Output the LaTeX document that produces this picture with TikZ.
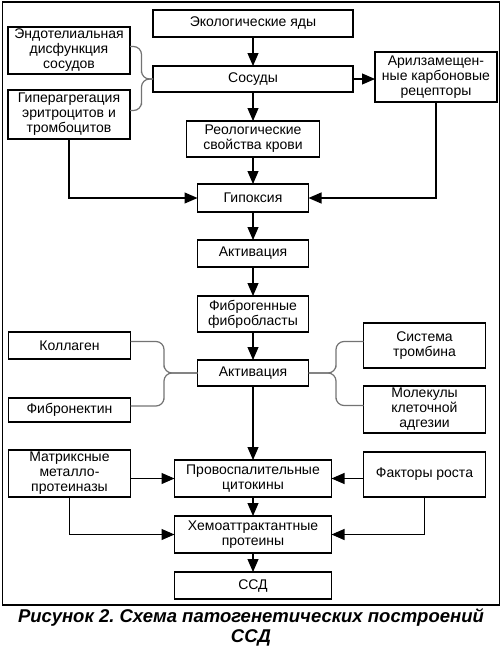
\documentclass[tikz,border=0pt]{standalone}
\usepackage{fontspec}
\setmainfont{Liberation Sans}
\usetikzlibrary{positioning, arrows.meta, calc}
\tikzset{
    box/.style={draw, line width=1.1pt, align=center, inner xsep=2pt, inner ysep=0pt, outer sep=0pt, font=\fontsize{14}{15}\selectfont},
    link/.style={line width=1.1pt, -{Triangle[length=13pt, width=11pt]}},
    bracelink/.style={draw=black!55, line width=1.2pt, rounded corners=8pt},
}

\begin{document}
\begin{tikzpicture}
    \useasboundingbox (0,0) rectangle (503pt,-651pt);

    \node[draw, line width=1.1pt, inner sep=0, outer sep=0, minimum width=497pt, minimum height=603pt] (frame) at (251pt,-303.5pt) {};

    % main column
    \node[box, minimum width=200pt, minimum height=27pt] (eco) at (253pt,-23.5pt) {Экологические яды};
    \node[box, minimum width=200pt, minimum height=26pt, below=29pt of eco] (vessels) {Сосуды};
    \node[box, minimum width=133pt, minimum height=36pt, below=29pt of vessels] (rheo) {Реологические\\свойства крови};
    \node[box, minimum width=111pt, minimum height=28pt, below=27pt of rheo] (hypoxia) {Гипоксия};
    \node[box, minimum width=111pt, minimum height=27pt, below=28pt of hypoxia] (act1) {Активация};
    \node[box, minimum width=111pt, minimum height=36pt, below=29pt of act1] (fibro) {Фиброгенные\\фибробласты};
    \node[box, minimum width=111pt, minimum height=26pt, below=28pt of fibro] (act2) {Активация};
    \node[box, minimum width=157pt, minimum height=37pt, below=74pt of act2] (cytokines) {Провоспалительные\\цитокины};
    \node[box, minimum width=157pt, minimum height=37pt, below=19pt of cytokines] (chemo) {Хемоаттрактантные\\протеины};
    \node[box, minimum width=157pt, minimum height=27pt, below=19pt of chemo] (ssd) {ССД};

    % side boxes
    \node[box, minimum width=122pt, minimum height=47pt, left=23pt of vessels, yshift=28.5pt] (endo) {Эндотелиальная\\дисфункция\\сосудов};
    \node[box, minimum width=122pt, minimum height=49pt, below=16pt of endo] (aggreg) {Гиперагрегация\\эритроцитов и\\тромбоцитов};
    \node[box, minimum width=122pt, minimum height=50pt, right=22pt of vessels, yshift=2pt] (aryl) {Арилзамещен-\\ные карбоновые\\рецепторы};
    \node[box, minimum width=122pt, minimum height=27pt, left=67pt of act2, yshift=27.5pt] (collagen) {Коллаген};
    \node[box, minimum width=122pt, minimum height=24pt, below=39pt of collagen] (fibronectin) {Фибронектин};
    \node[box, minimum width=122pt, minimum height=45pt, right=55pt of act2, yshift=27.5pt] (thrombin) {Система\\тромбина};
    \node[box, minimum width=122pt, minimum height=47pt, below=18pt of thrombin] (adhesion) {Молекулы\\клеточной\\адгезии};
    \node[box, minimum width=122pt, minimum height=47pt, left=44pt of cytokines, yshift=5pt] (mmp) {Матриксные\\металло-\\протеиназы};
    \node[box, minimum width=122pt, minimum height=45pt, right=32pt of cytokines, yshift=4pt] (growth) {Факторы роста};

    \node[below=3pt of frame, inner sep=0, align=center, font=\fontsize{18.5}{20}\selectfont\bfseries\itshape] (caption) {Рисунок 2.\ Схема патогенетических построений\\ССД};

    % arrows
    \draw[link] (eco) -- (vessels);
    \draw[link] (vessels) -- (rheo);
    \draw[link] (vessels.east) -- (vessels.east -| aryl.west);
    \draw[link] (rheo) -- (hypoxia);
    \draw[link] (aggreg.south) |- (hypoxia.west);
    \draw[link] (aryl.south) |- (hypoxia.east);
    \draw[link] (hypoxia) -- (act1);
    \draw[link] (act1) -- (fibro);
    \draw[link] (fibro) -- (act2);
    \draw[link] (act2) -- (cytokines);
    \draw[link] (mmp.east |- cytokines.west) -- (cytokines.west);
    \draw[link] (growth.west |- cytokines.east) -- (cytokines.east);
    \draw[link] (cytokines) -- (chemo);
    \draw[link] (mmp.south) |- (chemo.west);
    \draw[link] (growth.south) |- (chemo.east);
    \draw[link] (chemo) -- (ssd);

    % braces
    \draw[bracelink] ([yshift=4pt]endo.east) -| ($(endo.east)!0.5!(vessels.west)$) |- (vessels.west);
    \draw[bracelink] ([yshift=4pt]aggreg.east) -| ($(aggreg.east)!0.5!(vessels.west)$) |- (vessels.west);
    \draw[bracelink] ([yshift=4pt]collagen.east) -| ($(collagen.east)!0.5!(act2.west)$) |- (act2.west);
    \draw[bracelink] ([yshift=4pt]fibronectin.east) -| ($(fibronectin.east)!0.5!(act2.west)$) |- (act2.west);
    \draw[bracelink] (act2.east) -| ($(act2.east)!0.5!(thrombin.west)$) |- ([yshift=4pt]thrombin.west);
    \draw[bracelink] (act2.east) -| ($(act2.east)!0.5!(adhesion.west)$) |- ([yshift=4pt]adhesion.west);
\end{tikzpicture}
\end{document}
